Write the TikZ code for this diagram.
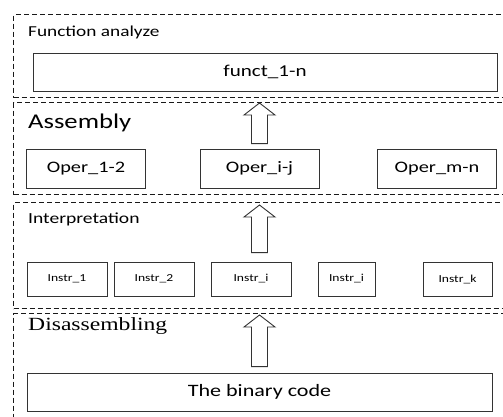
\documentclass[tikz,border=0pt]{standalone}
\usepackage{fontspec}
\newfontfamily\calfont[FakeStretch=1.27]{Carlito}
\newfontfamily\timesfont[FakeStretch=1.27]{Liberation Serif}
\usetikzlibrary{calc,positioning}
\tikzset{
    layer/.style={draw=black!90, dash pattern=on 5pt off 3pt, line width=1.4pt,
        anchor=north west, inner sep=0pt, minimum width=510pt},
    unitbox/.style={draw=black!80, line width=.8pt, inner sep=0pt, text=black},
    layertitle/.style={anchor=base west, inner sep=0pt, text=black},
    liftline/.style={draw=black!80, line width=.9pt, fill=white, line join=miter}
}
% Hollow block arrow from (#1) up to (#2).
\newcommand{\liftarrow}[2]{%
    \draw[liftline] let \p1=(#1), \p2=(#2) in
        (\x1-8pt,\y1) -- (\x1-8pt,\y2-12pt) -- (\x1-15.5pt,\y2-12pt) -- (\x1,\y2)
        -- (\x1+15.5pt,\y2-12pt) -- (\x1+8pt,\y2-12pt) -- (\x1+8pt,\y1) -- cycle;}

\begin{document}
\begin{tikzpicture}[x=1pt, y=-1pt]
    \useasboundingbox (0,0) rectangle (503,416);
    \clip (0,0) rectangle (503,416);

    % Draw the four layers.
    \node[layer, minimum height=83pt]  (lay1) at (13,14) {};
    \node[layer, minimum height=92pt]  (lay2) at (13,102) {};
    \node[layer, minimum height=106pt] (lay3) at (13,202) {};
    \node[layer, minimum height=120pt] (lay4) at (13,313) {};

    % Layer titles.
    \node[layertitle, font=\calfont\fontsize{15.2}{16}\selectfont] (t1) at (28,36) {Function analyze};
    \node[layertitle, font=\calfont\fontsize{21}{21}\selectfont] (t2) at (28,128) {Assembly};
    \node[layertitle, font=\calfont\fontsize{15.4}{16}\selectfont] (t3) at (28,223) {Interpretation};
    \node[layertitle, font=\timesfont\fontsize{18.6}{19}\selectfont] (t4) at (28,330) {Disassembling};

    % Function analyze.
    \node[unitbox, minimum width=464pt, minimum height=38pt,
        font=\calfont\fontsize{16.6}{17}\selectfont] (funct) at (265,72) {funct\_1-n};

    % Assembly.
    \foreach \x/\n/\t in {86/oper12/Oper\_1-2, 259.5/operij/Oper\_i-j, 437/opermn/Oper\_m-n}
        \node[unitbox, minimum width=119pt, minimum height=39pt,
            font=\calfont\fontsize{16}{16}\selectfont] (\n) at (\x,168.5) {\t};

    % Interpretation.
    \foreach \x/\w/\n/\t in {67/80/in1/Instr\_1, 154/80/in2/Instr\_2, 251/80/ini/Instr\_i,
                             346.5/57/inii/Instr\_i, 457.5/69/ink/Instr\_k}
        \node[unitbox, minimum width=\w pt, minimum height=34pt,
            font=\calfont\fontsize{10.7}{11}\selectfont] (\n) at (\x,279) {\t};

    % Disassembling.
    \node[unitbox, minimum width=465pt, minimum height=38pt,
        font=\calfont\fontsize{17.4}{18}\selectfont] (bin) at (259.5,392) {The binary code};

    % Arrows between layers.
    \coordinate (a1b) at ($(operij.north)+(0,-5)$);
    \coordinate (a1t) at ($(operij.north |- lay2.north)+(0,1)$);
    \coordinate (a2b) at ($(operij.center |- ini.north)+(0,-9)$);
    \coordinate (a2t) at ($(operij.center |- lay3.north)+(0,3)$);
    \coordinate (a3b) at ($(operij.center |- bin.north)+(0,-6)$);
    \coordinate (a3t) at ($(operij.center |- lay4.north)+(0,2)$);
    \liftarrow{a1b}{a1t}
    \liftarrow{a2b}{a2t}
    \liftarrow{a3b}{a3t}
\end{tikzpicture}
\end{document}
